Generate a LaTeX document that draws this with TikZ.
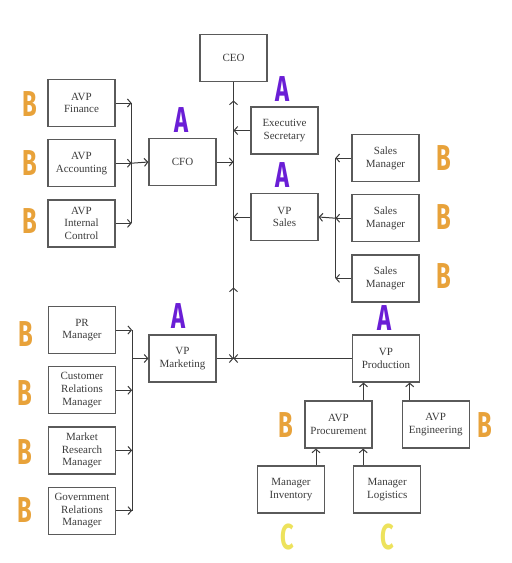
\documentclass[tikz,border=0pt]{standalone}
\usepackage{fontspec}
\setmainfont{Liberation Serif}
\newfontfamily\tagfont[FakeStretch=0.66]{Fira Sans}
\usepackage{xcolor}
\definecolor{boxLine}{HTML}{5A5A5A}
\definecolor{boxText}{HTML}{3C3C3C}
\definecolor{linkLine}{HTML}{3A3A3A}
\definecolor{tagPurple}{HTML}{6A1ED6}
\definecolor{tagOrange}{HTML}{E8A23A}
\definecolor{tagYellow}{HTML}{EDE25C}
\usetikzlibrary{
    arrows.meta,
    positioning
}
\tikzset{
    % Org chart boxes
    role/.style={
        rectangle,
        draw=boxLine,
        line width=1.2pt,
        minimum width=67pt,
        minimum height=47pt,
        inner sep=1pt,
        align=center,
        text=boxText,
        font=\fontsize{11}{12.8}\selectfont,
    },
    % Plain connector
    link/.style={
        draw=linkLine,
        line width=1pt,
    },
    % Connector with open barb
    arrow/.style={
        link,
        -{Straight Barb[length=3.5pt, width=8pt]},
    },
    % Hand-written grade letters
    tag/.style={
        font=\tagfont\bfseries\fontsize{36}{36}\selectfont,
        inner sep=0pt,
    },
    tag A/.style={tag, text=tagPurple},
    tag B/.style={tag, text=tagOrange},
    tag C/.style={tag, text=tagYellow},
}

\begin{document}
\begin{tikzpicture}[x=1pt, y=-1pt, node distance=12pt]
    \fill [white] (0,0) rectangle (512,563);
    \useasboundingbox (0,0) rectangle (512,563);

    % Top level
    \node (ceo) [role] at (233.5,58) {CEO};
    \node (cfo) [role] at (182.5,162) {CFO};
    \node (es) [role] at (284.5,130.5) {Executive\\Secretary};
    \node (vps) [role] at (284.5,217) {VP\\Sales};
    \node (vpm) [role] at (182.5,358.5) {VP\\Marketing};
    \node (vpp) [role] at (386,358.5) {VP\\Production};

    % Finance column
    \node (fin) [role] at (81.5,103) {AVP\\Finance};
    \node (acc) [role, below=of fin] {AVP\\Accounting};
    \node (ic) [role, below=of acc] {AVP\\Internal\\Control};

    % Sales column
    \node (sm1) [role] at (385.5,158) {Sales\\Manager};
    \node (sm2) [role, below=of sm1] {Sales\\Manager};
    \node (sm3) [role, below=of sm2] {Sales\\Manager};

    % Marketing column
    \node (pr) [role] at (82,330) {PR\\Manager};
    \node (crm) [role, below=of pr] {Customer\\Relations\\Manager};
    \node (mrm) [role, below=of crm] {Market\\Research\\Manager};
    \node (grm) [role, below=of mrm] {Government\\Relations\\Manager};

    % Production tree
    \node (proc) [role] at (338.5,424.5) {AVP\\Procurement};
    \node (eng) [role, right=29pt of proc] {AVP\\Engineering};
    \node (inv) [role] at (291,489.5) {Manager\\Inventory};
    \node (log) [role, right=28pt of inv] {Manager\\Logistics};

    % Spine to the CEO
    \coordinate (hub) at (ceo.south |- vpm.east);
    \draw [link] (ceo.south) -- (hub);
    \draw [arrow] (hub) -- ++(0,-71);
    \draw [arrow] (ceo.south |- es.west) -- ++(0,-30);
    \draw [arrow] (es.west) -- (es.west -| ceo.south);
    \draw [arrow] (cfo.east) -- (cfo.east -| ceo.south);
    \draw [arrow] (vps.west) -- (vps.west -| ceo.south);
    \draw [arrow] (vpm.east) -- (hub);
    \draw [arrow] (vpp.west) -- (hub);

    % Finance bus
    \coordinate (fbus) at ([xshift=16pt]acc.east);
    \draw [link] (fin.east -| fbus) -- (ic.east -| fbus);
    \draw [arrow] (fin.east) -- (fin.east -| fbus);
    \draw [arrow] (acc.east) -- (fbus);
    \draw [arrow] (ic.east) -- (ic.east -| fbus);
    \draw [arrow] (fbus) -- (cfo.west);

    % Sales bus
    \coordinate (sbus) at ([xshift=-16pt]sm2.west);
    \draw [link] (sm1.west -| sbus) -- (sm3.west -| sbus);
    \draw [arrow] (sm1.west) -- (sm1.west -| sbus);
    \draw [arrow] (sm2.west) -- (sbus);
    \draw [arrow] (sm3.west) -- (sm3.west -| sbus);
    \draw [arrow] (sbus) -- (vps.east);

    % Marketing bus
    \coordinate (mbus) at ([xshift=16pt]pr.east |- vpm.west);
    \draw [link] (pr.east -| mbus) -- (grm.east -| mbus);
    \draw [arrow] (pr.east) -- (pr.east -| mbus);
    \draw [arrow] (crm.east) -- (crm.east -| mbus);
    \draw [arrow] (mrm.east) -- (mrm.east -| mbus);
    \draw [arrow] (grm.east) -- (grm.east -| mbus);
    \draw [arrow] (mbus) -- (vpm.west);

    % Production links
    \draw [arrow] ([xshift=25pt]proc.north) -- ([xshift=25pt]proc.north |- vpp.south);
    \draw [arrow] ([xshift=-26pt]eng.north) -- ([xshift=-26pt]eng.north |- vpp.south);
    \draw [arrow] ([xshift=25pt]inv.north) -- ([xshift=25pt]inv.north |- proc.south);
    \draw [arrow] ([xshift=-24pt]log.north) -- ([xshift=-24pt]log.north |- proc.south);

    % Grade letters
    \node (tcfo) [tag A] at (182,120) {A};
    \node (tes) [tag A] at (283,89) {A};
    \node (tvps) [tag A] at (283,175) {A};
    \node (tvpm) [tag A] at (179,316) {A};
    \node (tvpp) [tag A] at (385,318) {A};
    \node (tfin) [tag B] at (29.5,104.5) {B};
    \node (tacc) [tag B] at (29.5,163) {B};
    \node (tic) [tag B] at (29.5,221) {B};
    \node (tpr) [tag B] at (26,334) {B};
    \node (tcrm) [tag B] at (25,393) {B};
    \node (tmrm) [tag B] at (25,452) {B};
    \node (tgrm) [tag B] at (25,510) {B};
    \node (tsm1) [tag B] at (444,158) {B};
    \node (tsm2) [tag B] at (444,217) {B};
    \node (tsm3) [tag B] at (444,276) {B};
    \node (tproc) [tag B] at (286,425) {B};
    \node (teng) [tag B] at (485,425) {B};
    \node (tinv) [tag C] at (287,537) {C};
    \node (tlog) [tag C] at (387,537) {C};
\end{tikzpicture}
\end{document}
